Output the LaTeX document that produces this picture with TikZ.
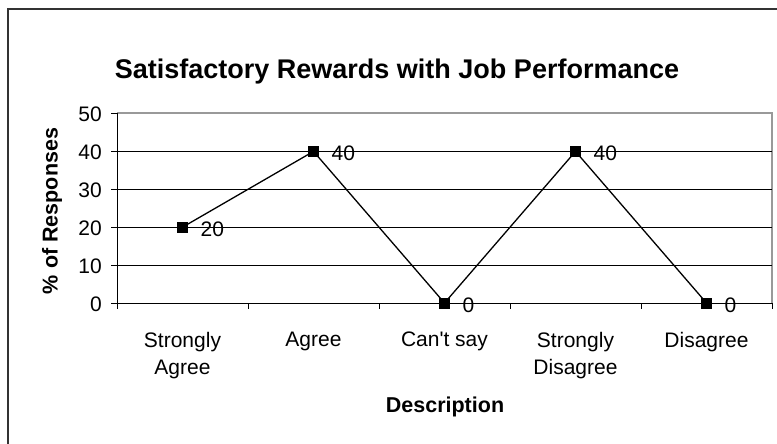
\documentclass[tikz,border=0pt]{standalone}
\usepackage{fontspec}
\setmainfont{Liberation Sans}[Ligatures=TeXOff]
\begin{document}
\begin{tikzpicture}[x=1pt,y=-1pt,
  lab/.style={font=\fontsize{21}{27}\selectfont, inner sep=0pt},
  boldlab/.style={font=\bfseries\fontsize{21.5}{27}\selectfont, inner sep=0pt},
  gridline/.style={black, line width=0.8pt},
  axisline/.style={black, line width=0.9pt},
  plotborder/.style={gray!80, line width=1.2pt},
  frameline/.style={black!80, line width=1.6pt},
  mk/.style={rectangle, fill=black, minimum size=11pt, inner sep=0pt},
  series/.style={black, line width=1.3pt}]
\useasboundingbox (0,0) rectangle (777,444);
% outer frame (right and bottom edges lie outside the picture)
\draw[frameline] (8,444) -- (8,9) -- (777,9);
% title
\node[font=\bfseries\fontsize{27}{32}\selectfont, inner sep=0pt] (title) at (397,72) {Satisfactory Rewards with Job Performance};
% plot area border
\draw[plotborder] (117,113) -- (772,113) -- (772,303);
% grid lines
\foreach \v in {10,20,30,40} {
  \draw[gridline] (117,{303-3.79*\v}) -- (772,{303-3.79*\v});
}
% axes
\draw[axisline] (117,113) -- (117,303) -- (772,303);
% y ticks and labels
\foreach \v in {0,10,20,30,40,50} {
  \draw[axisline] (111,{303-3.79*\v}) -- (117,{303-3.79*\v});
  \node[lab, anchor=east] at (102,{303-3.79*\v+1}) {\v};
}
% x ticks
\foreach \k in {0,...,5} {
  \draw[axisline] ({117+131*\k},303) -- ({117+131*\k},309);
}
% category labels
\node[lab, anchor=north, align=center] (c1) at (182.5,332) {Strongly\\Agree};
\node[lab, anchor=north, align=center] (c2) at (313.5,332) {Agree};
\node[lab, anchor=north, align=center] (c3) at (444.5,332) {Can't say};
\node[lab, anchor=north, align=center] (c4) at (575.5,332) {Strongly\\Disagree};
\node[lab, anchor=north, align=center] (c5) at (706.5,332) {Disagree};
% axis titles
\node[boldlab] (xt) at (445,407) {Description};
\node[boldlab, rotate=90] (yt) at (52,211) {\% of Responses};
% data points
\node[mk] (p1) at (182.5,{303-3.79*20}) {};
\node[mk] (p2) at (313.5,{303-3.79*40}) {};
\node[mk] (p3) at (444.5,303) {};
\node[mk] (p4) at (575.5,{303-3.79*40}) {};
\node[mk] (p5) at (706.5,303) {};
\draw[series] (p1.center) -- (p2.center) -- (p3.center) -- (p4.center) -- (p5.center);
% data labels
\node[lab, anchor=west] (l1) at (200.5,{303-3.79*20+2}) {20};
\node[lab, anchor=west] (l2) at (331.5,{303-3.79*40+2}) {40};
\node[lab, anchor=west] (l3) at (462.5,305) {0};
\node[lab, anchor=west] (l4) at (593.5,{303-3.79*40+2}) {40};
\node[lab, anchor=west] (l5) at (724.5,305) {0};
\end{tikzpicture}
\end{document}
